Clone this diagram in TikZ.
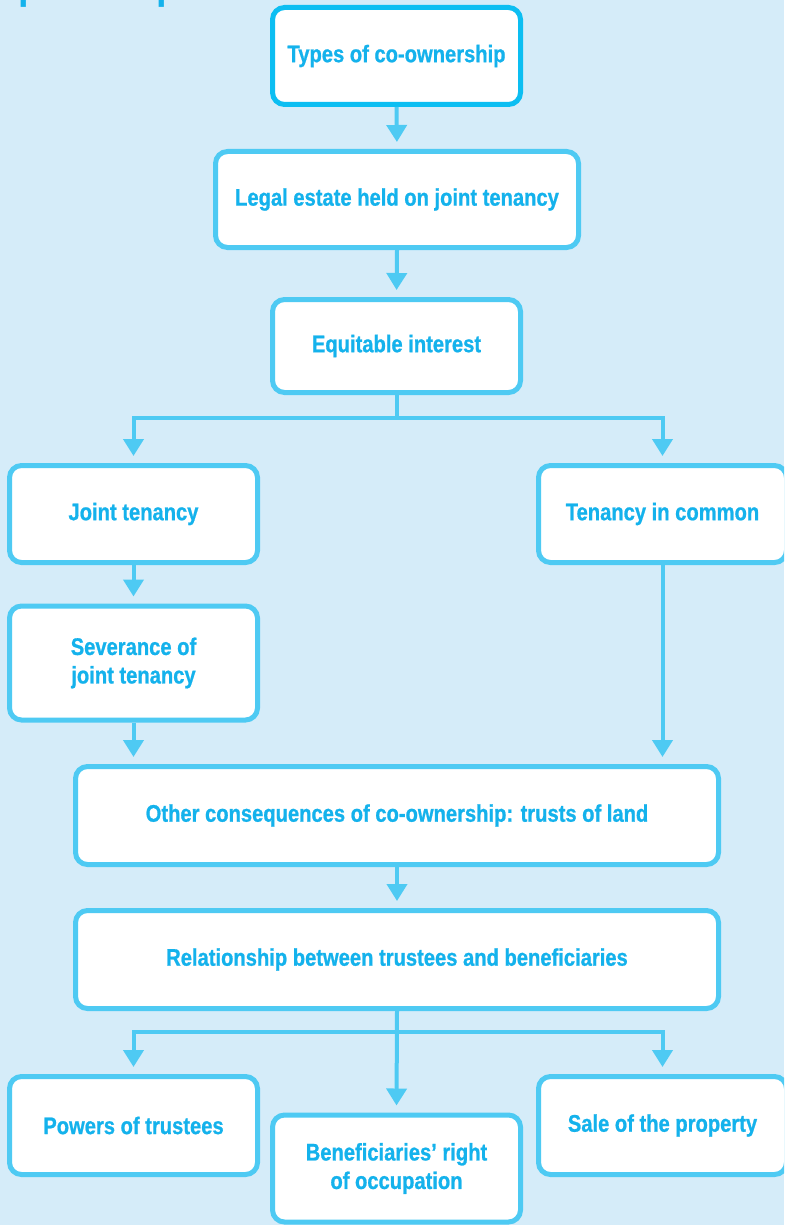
\documentclass[tikz,border=0pt]{standalone}
\usepackage{fontspec}
\setmainfont{Liberation Sans}
\newfontfamily\boxfont{Liberation Sans}[FakeStretch=0.84,FakeBold=0.8]
\usetikzlibrary{arrows.meta}

\definecolor{bg}{HTML}{D5ECF9}
\definecolor{edge}{HTML}{4ECAF3}
\definecolor{edgetop}{HTML}{0CBEF2}
\definecolor{ink}{HTML}{14B2EC}

\tikzset{
  box/.style={draw=edge, line width=5pt, fill=white, rounded corners=12pt,
    inner sep=0pt, align=center, text=ink,
    font=\boxfont\bfseries\fontsize{24}{28.5}\selectfont},
  topbox/.style={box, draw=edgetop},
  conn/.style={draw=edge, line width=4pt,
    -{Triangle[width=20pt,length=17pt]}, shorten >=7pt},
  link/.style={draw=edge, line width=4pt}
}

\begin{document}
\begin{tikzpicture}[x=1pt,y=-1pt]
  \useasboundingbox (0,0) rectangle (784,1225);
  \clip (0,0) rectangle (784,1225);
  \fill[bg] (0,0) rectangle (784,1225);

  % chapter heading, mostly above the page edge
  \node[anchor=base west, inner sep=0pt, text=ink,
        font=\bfseries\fontsize{38}{38}\selectfont] (title) at (-53,0) {Chapter map};

  % boxes
  \node[topbox, minimum width=248pt, minimum height=97pt] (b1) at (396.5,56) {Types of co-ownership};
  \node[box, minimum width=363pt, minimum height=96pt] (b2) at (397,199.5) {Legal estate held on joint tenancy};
  \node[box, minimum width=248pt, minimum height=93pt] (b3) at (396.5,346) {Equitable interest};
  \node[box, minimum width=248pt, minimum height=97pt] (b4) at (133.5,514) {Joint tenancy};
  \node[box, minimum width=248pt, minimum height=97pt] (b5) at (662.5,514) {Tenancy in common};
  \node[box, minimum width=248pt, minimum height=114pt] (b6) at (133.5,663) {Severance of\\joint tenancy};
  \node[box, minimum width=643pt, minimum height=98pt] (b7) at (397,815.5) {Other consequences of co-ownership: trusts of land};
  \node[box, minimum width=643pt, minimum height=98pt] (b8) at (397,959.5) {Relationship between trustees and beneficiaries};
  \node[box, minimum width=248pt, minimum height=98pt] (b9) at (133.5,1125.5) {Powers of trustees};
  \node[box, minimum width=248pt, minimum height=107pt] (b10) at (396.5,1168.5) {Beneficiaries’ right\\of occupation};
  \node[box, minimum width=248pt, minimum height=98pt] (b11) at (662.5,1125.5) {Sale of the property};

  % branch points
  \coordinate (s1) at (396.5,418);
  \coordinate (s2) at (397,1032);

  % connectors
  \draw[conn] (b1.south) -- (b2.north);
  \draw[conn] (b2.south) -- (b3.north);
  \draw[link] (b3.south) -- (s1);
  \draw[conn] (s1) -| (b4.north);
  \draw[conn] (s1) -| (b5.north);
  \draw[conn] (b4.south) -- (b6.north);
  \draw[conn] (b6.south) -- (b6.south |- b7.north);
  \draw[conn] (b5.south) -- (b5.south |- b7.north);
  \draw[conn] (b7.south) -- (b8.north);
  \draw[conn] (b8.south) -- (b10.north);
  \draw[conn] (s2) -| (b9.north);
  \draw[conn] (s2) -| (b11.north);
\end{tikzpicture}
\end{document}
